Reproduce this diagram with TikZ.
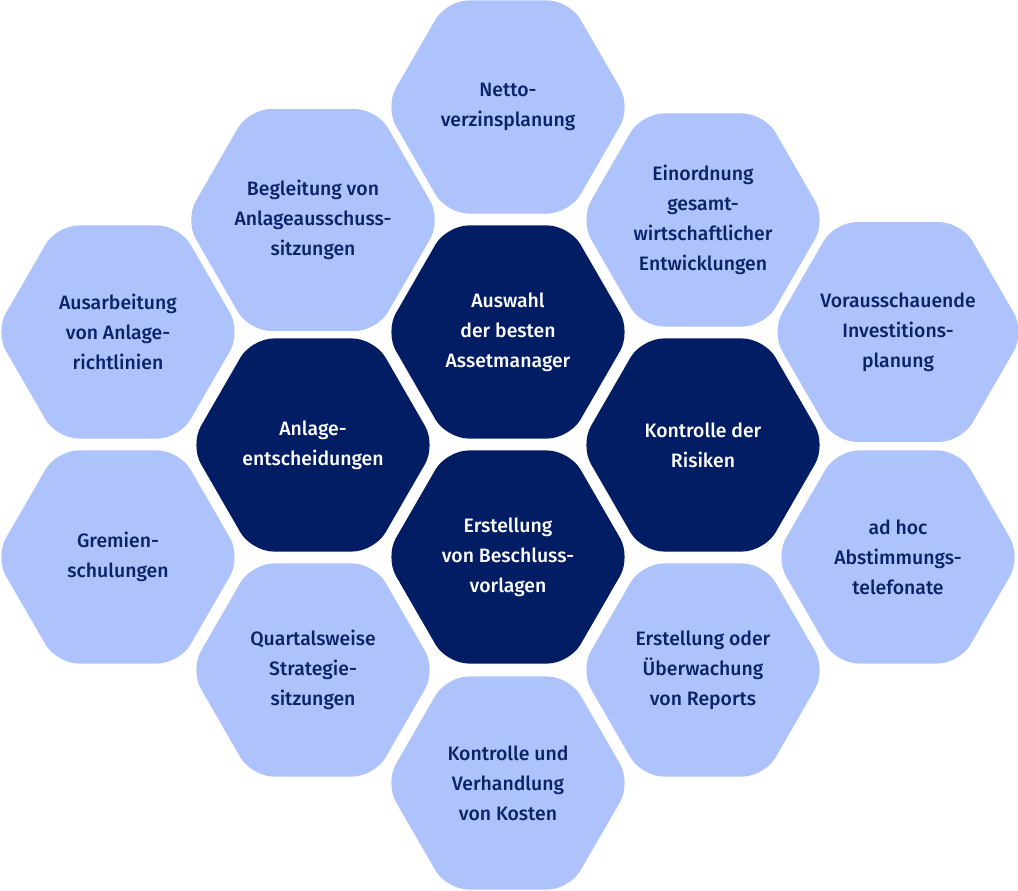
\documentclass[tikz,border=0pt]{standalone}
\usepackage{fontspec}
\setmainfont{Fira Sans}[UprightFont={* Medium}]
\usepackage{tikz}
\usetikzlibrary{shapes.geometric}

\definecolor{hexlightfill}{HTML}{AEC2FC}
\definecolor{hexdarkfill}{HTML}{021D64}
\definecolor{hexnavytext}{HTML}{0B2266}

\tikzset{
  hexbase/.style={regular polygon, regular polygon sides=6,
    minimum size=6.15cm, inner sep=0pt, outer sep=0pt, rounded corners=0.55cm,
    align=center, font=\fontsize{13.8}{21.3}\selectfont},
  hexlight/.style={hexbase, fill=hexlightfill, text=hexnavytext},
  hexdark/.style={hexbase, fill=hexdarkfill, text=white}
}

\begin{document}
\begin{tikzpicture}[x=0.025cm, y=-0.025cm]

% Canvas
\useasboundingbox (0,0) rectangle (1018,891);

% Column positions
\def\colA{118}
\def\colB{313}
\def\colC{508}
\def\colD{703}
\def\colE{898}

% Outer ring of light hexagons
\node[hexlight] (netto) at (\colC,107) {Netto-\\verzinsplanung};
\node[hexlight] (begleitung) at (\colB,220) {Begleitung von\\Anlageausschuss-\\sitzungen};
\node[hexlight] (einordnung) at (\colD,220) {Einordnung\\gesamt-\\wirtschaftlicher\\Entwicklungen};
\node[hexlight] (ausarbeitung) at (\colA,332) {Ausarbeitung\\von Anlage-\\richtlinien};
\node[hexlight] (vorausschau) at (\colE,332) {Vorausschauende\\Investitions-\\planung};
\node[hexlight] (gremien) at (\colA,557) {Gremien-\\schulungen};
\node[hexlight] (adhoc) at (\colE,557) {ad hoc\\Abstimmungs-\\telefonate};
\node[hexlight] (quartal) at (\colB,670) {Quartalsweise\\Strategie-\\sitzungen};
\node[hexlight] (reports) at (\colD,670) {Erstellung oder\\Überwachung\\von Reports};
\node[hexlight] (kosten) at (\colC,783) {Kontrolle und\\Verhandlung\\von Kosten};

% Inner core of dark hexagons
\node[hexdark] (auswahl) at (\colC,332) {Auswahl\\der besten\\Assetmanager};
\node[hexdark] (anlage) at (\colB,445) {Anlage-\\entscheidungen};
\node[hexdark] (risiken) at (\colD,445) {Kontrolle der\\Risiken};
\node[hexdark] (beschluss) at (\colC,557) {Erstellung\\von Beschluss-\\vorlagen};

\end{tikzpicture}
\end{document}
